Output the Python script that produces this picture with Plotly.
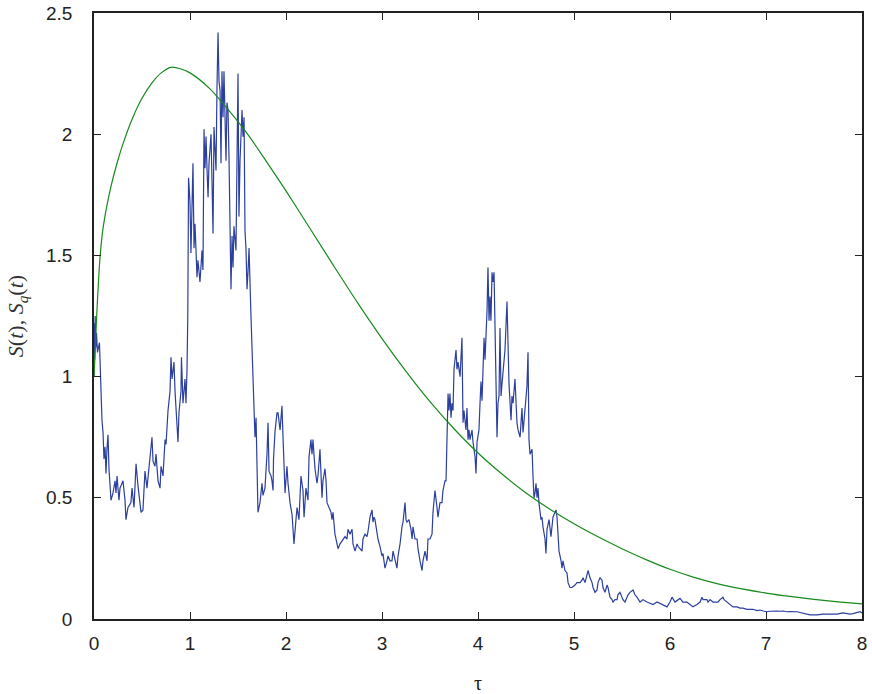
import plotly.graph_objects as go

# Sample path S(t)
tau = [
    0.000, 0.003, 0.007, 0.012, 0.019, 0.026, 0.036, 0.057, 0.070, 0.083, 0.094, 0.104, 0.115, 0.125,
    0.135, 0.146, 0.156, 0.167, 0.177, 0.198, 0.219, 0.229, 0.240, 0.260, 0.271, 0.302, 0.323, 0.333,
    0.354, 0.385, 0.396, 0.417, 0.438, 0.458, 0.479, 0.490, 0.510, 0.531, 0.552, 0.583, 0.604, 0.615,
    0.635, 0.646, 0.667, 0.688, 0.698, 0.719, 0.740, 0.750, 0.771, 0.792, 0.802, 0.813, 0.833, 0.844,
    0.854, 0.875, 0.885, 0.906, 0.911, 0.927, 0.948, 0.958, 0.969, 0.977, 0.985,
    1.000, 1.010, 1.031, 1.042, 1.052, 1.073, 1.083, 1.104, 1.125, 1.135, 1.146, 1.156, 1.167, 1.177,
    1.188, 1.198, 1.219, 1.229, 1.240, 1.250, 1.271, 1.281, 1.292, 1.302, 1.313, 1.323, 1.333, 1.344,
    1.354, 1.375, 1.385, 1.396, 1.406, 1.427, 1.438, 1.448, 1.458, 1.479, 1.490, 1.500, 1.510, 1.521,
    1.542, 1.552, 1.563, 1.573, 1.583, 1.594, 1.604, 1.615, 1.635,
    1.656, 1.677, 1.688, 1.698, 1.708, 1.729, 1.750, 1.760, 1.781, 1.802, 1.813, 1.823, 1.844, 1.854,
    1.865, 1.870, 1.885, 1.906, 1.917, 1.938, 1.958, 1.969, 1.990, 2.010, 2.021, 2.042, 2.063, 2.073,
    2.083, 2.104, 2.115, 2.135, 2.156, 2.177, 2.188, 2.208, 2.229, 2.240, 2.260, 2.271, 2.281, 2.302,
    2.323, 2.333, 2.354, 2.375, 2.385, 2.406, 2.417, 2.427, 2.448, 2.469, 2.479, 2.490, 2.510, 2.531,
    2.542, 2.563, 2.583, 2.594, 2.615, 2.635, 2.646, 2.667, 2.688, 2.698, 2.719, 2.740, 2.750, 2.771,
    2.792, 2.802, 2.823, 2.844, 2.854, 2.875, 2.896, 2.906, 2.917, 2.927, 2.948, 2.958, 2.979, 3.000,
    3.010, 3.031, 3.052, 3.063, 3.083, 3.104, 3.115, 3.135, 3.156, 3.167, 3.188, 3.208, 3.219, 3.240,
    3.250, 3.260, 3.281, 3.302, 3.313, 3.323, 3.344, 3.365, 3.375, 3.396, 3.417, 3.427, 3.448, 3.469,
    3.479, 3.500, 3.521, 3.531, 3.552, 3.573, 3.583, 3.604, 3.625, 3.635, 3.656, 3.667, 3.677, 3.688,
    3.698, 3.708, 3.719, 3.729, 3.740, 3.750, 3.771, 3.781, 3.792, 3.813, 3.833, 3.844, 3.854, 3.875,
    3.885, 3.896, 3.906, 3.917, 3.938, 3.948, 3.969, 3.979, 3.990, 4.010, 4.021, 4.031, 4.042, 4.052,
    4.063, 4.073, 4.094, 4.104, 4.115, 4.125, 4.135, 4.146, 4.156, 4.167, 4.188, 4.198, 4.208, 4.219,
    4.229, 4.240, 4.250, 4.260, 4.281, 4.302, 4.313, 4.323, 4.344, 4.354, 4.365, 4.385, 4.406, 4.417,
    4.438, 4.458, 4.469, 4.490, 4.510, 4.521, 4.531, 4.542, 4.563, 4.573, 4.583, 4.594, 4.604, 4.615,
    4.625, 4.635, 4.656, 4.667, 4.677, 4.698, 4.708, 4.719, 4.740, 4.760, 4.771, 4.781, 4.802, 4.813,
    4.823, 4.833, 4.844, 4.865, 4.875, 4.885, 4.906, 4.927, 4.938, 4.958, 4.979, 5.010, 5.031, 5.042,
    5.063, 5.083, 5.094, 5.115, 5.135, 5.146, 5.167, 5.188, 5.198, 5.219, 5.240, 5.250, 5.271, 5.292,
    5.302, 5.323, 5.344, 5.354, 5.375, 5.396, 5.406, 5.427, 5.448, 5.458, 5.479, 5.500, 5.510, 5.531,
    5.552, 5.563, 5.583, 5.615, 5.635, 5.656, 5.688, 5.719, 5.760, 5.792, 5.823, 5.865, 5.896, 5.927,
    5.969, 6.000, 6.021, 6.052, 6.083, 6.104, 6.135, 6.177, 6.208, 6.240, 6.281, 6.313, 6.333, 6.344,
    6.385, 6.396, 6.417, 6.448, 6.469, 6.500, 6.521, 6.552, 6.563, 6.594, 6.625, 6.656, 6.698, 6.729,
    6.760, 6.802, 6.833, 6.865, 6.906, 6.938, 6.969, 7.010, 7.042, 7.073, 7.115, 7.146, 7.177, 7.219,
    7.250, 7.323, 7.385, 7.458, 7.531, 7.594, 7.667, 7.740, 7.802, 7.875, 7.906, 7.948, 7.979, 8.000,
]
s_path = [
    1.00, 1.22, 1.07, 1.25, 1.12, 1.18, 1.10, 1.14, 0.94, 0.82, 0.77, 0.66, 0.71, 0.60,
    0.70, 0.76, 0.62, 0.55, 0.49, 0.52, 0.57, 0.52, 0.59, 0.49, 0.54, 0.57, 0.49, 0.41,
    0.46, 0.48, 0.54, 0.46, 0.64, 0.55, 0.48, 0.44, 0.45, 0.61, 0.54, 0.66, 0.75, 0.65,
    0.63, 0.68, 0.57, 0.54, 0.63, 0.59, 0.74, 0.72, 0.86, 0.94, 1.08, 0.99, 1.06, 0.94,
    0.87, 0.73, 0.85, 0.94, 1.08, 0.89, 0.99, 0.89, 1.03, 1.25, 1.82,
    1.72, 1.51, 1.88, 1.53, 1.63, 1.41, 1.48, 1.39, 1.52, 1.44, 2.02, 1.86, 1.99, 1.86,
    1.74, 1.88, 2.00, 1.81, 1.59, 2.03, 1.85, 2.19, 2.42, 2.22, 2.18, 1.88, 2.26, 2.07,
    2.26, 1.89, 2.13, 2.10, 1.91, 1.36, 1.58, 1.45, 1.62, 1.52, 1.89, 2.25, 1.66, 1.89,
    2.10, 1.99, 2.07, 1.60, 1.53, 1.36, 1.43, 1.53, 1.25,
    0.99, 0.75, 0.83, 0.57, 0.44, 0.48, 0.56, 0.51, 0.54, 0.68, 0.81, 0.61, 0.59, 0.57,
    0.53, 0.66, 0.77, 0.85, 0.85, 0.78, 0.88, 0.75, 0.52, 0.63, 0.56, 0.48, 0.43, 0.37,
    0.31, 0.41, 0.46, 0.41, 0.59, 0.53, 0.42, 0.54, 0.49, 0.67, 0.74, 0.68, 0.74, 0.62,
    0.56, 0.59, 0.70, 0.50, 0.57, 0.62, 0.57, 0.48, 0.46, 0.44, 0.41, 0.44, 0.35, 0.31,
    0.29, 0.31, 0.32, 0.33, 0.34, 0.33, 0.37, 0.35, 0.37, 0.31, 0.28, 0.31, 0.30, 0.29,
    0.28, 0.33, 0.35, 0.34, 0.36, 0.42, 0.45, 0.40, 0.42, 0.41, 0.35, 0.33, 0.30, 0.26,
    0.27, 0.21, 0.24, 0.26, 0.24, 0.24, 0.28, 0.24, 0.21, 0.26, 0.31, 0.38, 0.40, 0.48,
    0.41, 0.40, 0.41, 0.37, 0.33, 0.38, 0.33, 0.33, 0.29, 0.24, 0.20, 0.24, 0.28, 0.24,
    0.33, 0.33, 0.35, 0.44, 0.53, 0.46, 0.42, 0.48, 0.48, 0.53, 0.57, 0.57, 0.75, 0.93,
    0.86, 0.93, 0.83, 0.89, 0.86, 1.03, 1.11, 1.03, 1.06, 1.00, 1.16, 0.81, 0.86, 0.78,
    0.87, 0.74, 0.78, 0.74, 0.78, 0.73, 0.67, 0.60, 0.73, 0.78, 0.89, 0.98, 0.90, 1.03,
    1.16, 1.07, 1.27, 1.45, 1.23, 1.33, 1.23, 1.43, 1.39, 1.43, 0.90, 0.75, 0.89, 0.92,
    1.20, 0.92, 0.97, 1.01, 1.11, 1.31, 1.14, 0.97, 0.82, 0.92, 0.89, 0.99, 0.81, 0.78,
    0.75, 0.87, 0.77, 0.89, 0.96, 1.10, 0.74, 0.68, 0.70, 0.59, 0.50, 0.52, 0.56, 0.50,
    0.54, 0.48, 0.41, 0.42, 0.38, 0.33, 0.27, 0.37, 0.41, 0.34, 0.38, 0.42, 0.44, 0.45,
    0.42, 0.37, 0.28, 0.24, 0.21, 0.24, 0.20, 0.19, 0.15, 0.13, 0.13, 0.14, 0.15, 0.15,
    0.15, 0.16, 0.17, 0.15, 0.19, 0.20, 0.17, 0.15, 0.13, 0.11, 0.12, 0.15, 0.17, 0.16,
    0.13, 0.11, 0.14, 0.13, 0.09, 0.08, 0.07, 0.08, 0.08, 0.10, 0.11, 0.09, 0.08, 0.07,
    0.09, 0.10, 0.11, 0.12, 0.10, 0.09, 0.07, 0.08, 0.07, 0.065, 0.06, 0.07, 0.065, 0.06,
    0.05, 0.07, 0.09, 0.07, 0.08, 0.085, 0.07, 0.07, 0.06, 0.05, 0.06, 0.07, 0.09, 0.08,
    0.08, 0.07, 0.08, 0.07, 0.07, 0.07, 0.08, 0.09, 0.08, 0.07, 0.06, 0.05, 0.05, 0.045,
    0.045, 0.04, 0.04, 0.04, 0.035, 0.037, 0.033, 0.03, 0.032, 0.033, 0.033, 0.032, 0.033, 0.03,
    0.031, 0.03, 0.025, 0.017, 0.017, 0.02, 0.02, 0.02, 0.025, 0.02, 0.022, 0.025, 0.03, 0.025,
]

# Smooth curve S_q(t)
tau_q = [
    0.000, 0.014, 0.028, 0.045, 0.0625, 0.09, 0.132, 0.18, 0.236, 0.30, 0.40, 0.50, 0.60, 0.70,
    0.80, 0.90, 1.00, 1.20, 1.40, 1.60, 1.80, 2.00, 2.25, 2.50, 2.75, 3.00, 3.25, 3.50,
    3.75, 4.00, 4.25, 4.50, 4.75, 5.00, 5.25, 5.50, 5.75, 6.00, 6.25, 6.50, 6.75, 7.00,
    7.25, 7.50, 7.75, 8.00,
]
s_q = [
    1.00, 1.12, 1.25, 1.38, 1.49, 1.60, 1.70, 1.79, 1.875, 1.958, 2.065, 2.148, 2.21, 2.253,
    2.276, 2.27, 2.253, 2.19, 2.10, 2.00, 1.885, 1.766, 1.611, 1.455, 1.302, 1.157, 1.022, 0.897,
    0.785, 0.685, 0.598, 0.520, 0.453, 0.393, 0.339, 0.290, 0.245, 0.205, 0.172, 0.145, 0.124, 0.107,
    0.093, 0.081, 0.071, 0.062,
]

x_ticks = [0, 1, 2, 3, 4, 5, 6, 7, 8]
y_ticks = [0, 0.5, 1, 1.5, 2, 2.5]
y_tick_text = ["0", "0.5", "1", "1.5", "2", "2.5"]

fig = go.Figure()
fig.add_trace(go.Scatter(
    x=tau, y=s_path, mode="lines",
    line=dict(color="#2b3f9e", width=1.2),
    showlegend=False, hoverinfo="skip",
))
fig.add_trace(go.Scatter(
    x=tau_q, y=s_q, mode="lines",
    line=dict(color="#188a1c", width=1.2, shape="spline", smoothing=0.8),
    showlegend=False, hoverinfo="skip",
))

axis_common = dict(
    showline=True, linecolor="#222", linewidth=1.5, mirror="ticks",
    ticks="inside", ticklen=7, tickwidth=1.3, tickcolor="#222",
    showgrid=False, zeroline=False, automargin=False,
    tickfont=dict(family="Liberation Sans, Arial, sans-serif", size=19, color="#222"),
)

fig.update_xaxes(
    range=[0, 8], tickvals=x_ticks, ticktext=[str(v) for v in x_ticks],
    ticklabelstandoff=6,
    title=dict(text="τ", font=dict(family="Liberation Serif, serif", size=20, color="#222"),
               standoff=25),
    **axis_common,
)
fig.update_yaxes(
    range=[0, 2.5], tickvals=y_ticks, ticktext=y_tick_text,
    ticklabelstandoff=16,
    title=dict(text="<i>S</i>(<i>t</i>), <i>S<sub>q</sub></i>(<i>t</i>)",
               font=dict(family="Liberation Serif, serif", size=22, color="#333"),
               standoff=16),
    **axis_common,
)

fig.update_layout(
    width=872, height=694,
    margin=dict(l=94, r=10, t=13, b=75),
    plot_bgcolor="white", paper_bgcolor="white",
)

fig.write_html("out.html")
